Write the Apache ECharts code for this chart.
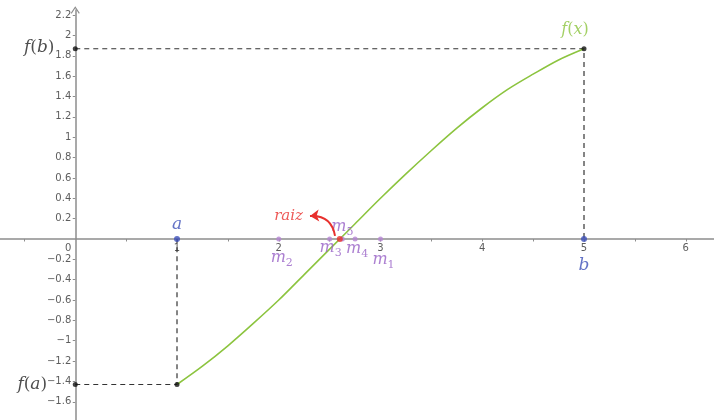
<!DOCTYPE html>
<html>
<head>
<meta charset="utf-8">
<script src="https://cdn.jsdelivr.net/npm/echarts@6/dist/echarts.min.js"></script>
<style>
  html, body { margin: 0; padding: 0; background: #ffffff; }
  #chart { width: 714px; height: 420px; }
</style>
</head>
<body>
<div id="chart"></div>
<script>
// Sampled values of f on the bracket [a, b]
const xs = [1, 1.25, 1.5, 1.75, 2, 2.25, 2.5, 2.75, 3, 3.25, 3.5, 3.75, 4, 4.25, 4.5, 4.75, 5];
const fx = [-1.43, -1.25, -1.05, -0.83, -0.60, -0.35, -0.10, 0.15, 0.40, 0.64, 0.87, 1.09, 1.29, 1.47, 1.62, 1.76, 1.87];

// Bracket ends and the root found by bisection
const a = 1;
const b = 5;
const root = 2.6;

// Successive midpoints m1..m5
const midNames = ['m1', 'm2', 'm3', 'm4', 'm5'];
const midValues = [3, 2, 2.5, 2.75, 2.625];

// Axis tick labels
const xTickLabels = [1, 2, 3, 4, 5, 6];
const xTickMarks = [-0.5, 0.5, 1, 1.5, 2, 2.5, 3, 3.5, 4, 4.5, 5, 5.5, 6];
const yTickLabels = [-1.6, -1.4, -1.2, -1, -0.8, -0.6, -0.4, -0.2, 0.2, 0.4, 0.6, 0.8, 1, 1.2, 1.4, 1.6, 1.8, 2, 2.2];

const fa = fx[0];
const fb = fx[fx.length - 1];

// ---- layout / styling ----
const MATH_FONT = 'DejaVu Serif';
const AXIS_GRAY = '#8d8d8d';
const GREEN = '#8cc43f';
const BLUE = '#3c4fb8';
const PURPLE_DOT = '#b484d2';
const PURPLE_TEXT = '#9760c6';
const RED = '#e8302d';

// pixel offsets of midpoint labels (centre of label relative to the point)
const midLabelOffset = {
  m1: [3, 21], m2: [3, 19], m3: [1, 9], m4: [2, 10], m5: [0, -12]
};
// curved pointer next to the root label (data units)
const pointerFrom = [2.553, 0.03];
const pointerTo = [2.307, 0.226];

function mathRich(color, size) {
  return {
    i: { fontFamily: MATH_FONT, fontStyle: 'italic', fontSize: size, color: color, lineHeight: 22, verticalAlign: 'middle' },
    r: { fontFamily: MATH_FONT, fontSize: size, color: color, lineHeight: 22, verticalAlign: 'middle' },
    s: { fontFamily: MATH_FONT, fontSize: Math.round(size * 0.66), color: color, lineHeight: 22, verticalAlign: 'bottom' }
  };
}
function fLabel(arg) {
  return '{i|f}{r|(}{i|' + arg + '}{r|)}';
}
function subLabel(name) {
  return '{i|' + name[0] + '}{s|' + name.slice(1) + '}';
}
function fmtTick(v) {
  const n = Math.round(v * 10) / 10;
  return n < 0 ? '\u2212' + String(-n) : String(n);
}

const TICK_FONT = { fontFamily: 'DejaVu Sans', fontSize: 10, color: '#333333' };

const chart = echarts.init(document.getElementById('chart'), null, { renderer: 'canvas' });

const option = {
  backgroundColor: '#ffffff',
  animation: false,
  grid: { left: 0, right: 0, top: 10, bottom: 0, containLabel: false, outerBoundsMode: 'none' },
  xAxis: {
    type: 'value',
    min: -0.7396,
    max: 6.2776,
    axisLine: { onZero: true, lineStyle: { color: AXIS_GRAY, width: 1.5 } },
    axisTick: { show: true, length: 2.5, customValues: xTickMarks, lineStyle: { color: AXIS_GRAY } },
    axisLabel: { show: false },
    splitLine: { show: false }
  },
  yAxis: {
    type: 'value',
    min: -1.7789,
    max: 2.2506,
    axisLine: {
      onZero: true,
      symbol: ['none', 'path://M0,9 L6,0 L12,9 L10.8,10 L6,2.6 L1.2,10 Z'],
      symbolSize: [9, 8],
      lineStyle: { color: AXIS_GRAY, width: 1.5 }
    },
    axisTick: { show: true, length: 2.5, customValues: yTickLabels, lineStyle: { color: AXIS_GRAY } },
    axisLabel: { show: false },
    splitLine: { show: false }
  },
  series: [
    // tick labels along the axes through the origin
    {
      type: 'scatter',
      symbolSize: 0,
      silent: true,
      data: xTickLabels.map(v => [v, 0]),
      label: Object.assign({ show: true, position: 'inside', offset: [0, 9], formatter: p => fmtTick(p.value[0]) }, TICK_FONT),
      z: 1
    },
    {
      type: 'scatter',
      symbolSize: 0,
      silent: true,
      data: yTickLabels.map(v => [0, v]),
      label: Object.assign({ show: true, position: 'left', distance: 4, formatter: p => fmtTick(p.value[1]) }, TICK_FONT),
      z: 1
    },
    {
      type: 'scatter',
      symbolSize: 0,
      silent: true,
      data: [[0, 0]],
      label: Object.assign({ show: true, position: 'inside', offset: [-7, 9], formatter: '0' }, TICK_FONT),
      z: 1
    },
    // dashed guides to f(b) and f(a)
    {
      type: 'line',
      data: [[0, fb], [b, fb], [b, 0]],
      symbol: 'none',
      lineStyle: { color: '#333333', width: 1.2, type: [5, 4] },
      z: 2
    },
    {
      type: 'line',
      data: [[0, fa], [a, fa], [a, 0]],
      symbol: 'none',
      lineStyle: { color: '#333333', width: 1.2, type: [5, 4] },
      z: 2
    },
    // the function
    {
      type: 'line',
      data: xs.map((x, i) => [x, fx[i]]),
      smooth: 0.3,
      symbol: 'none',
      lineStyle: { color: GREEN, width: 1.6 },
      z: 3
    },
    // f(b), f(a) points and labels
    {
      type: 'scatter',
      symbolSize: 5,
      itemStyle: { color: '#111111' },
      data: [
        { value: [0, fb], label: { show: true, position: 'inside', offset: [-36, -1], formatter: fLabel('b'), rich: mathRich('#222222', 17) } },
        { value: [b, fb], label: { show: true, position: 'inside', offset: [-9, -19], formatter: fLabel('x'), rich: mathRich(GREEN, 16) } },
        { value: [0, fa], label: { show: true, position: 'inside', offset: [-43, 0], formatter: fLabel('a'), rich: mathRich('#222222', 17) } },
        { value: [a, fa] }
      ],
      z: 5
    },
    // bracket ends a, b
    {
      type: 'scatter',
      symbolSize: 6,
      itemStyle: { color: BLUE },
      data: [
        { value: [a, 0], label: { show: true, position: 'inside', offset: [0, -14], formatter: '{i|a}', rich: mathRich(BLUE, 17) } },
        { value: [b, 0], label: { show: true, position: 'inside', offset: [0, 27], formatter: '{i|b}', rich: mathRich(BLUE, 17) } }
      ],
      z: 6
    },
    // midpoints
    {
      type: 'scatter',
      symbolSize: 5,
      itemStyle: { color: PURPLE_DOT },
      data: midValues.map((m, i) => ({
        value: [m, 0],
        label: {
          show: true,
          position: 'inside',
          offset: midLabelOffset[midNames[i]],
          formatter: subLabel(midNames[i]),
          rich: mathRich(PURPLE_TEXT, 16)
        }
      })),
      z: 6
    },
    // root
    {
      type: 'scatter',
      symbolSize: 6,
      itemStyle: { color: RED },
      data: [[root, 0]],
      z: 7
    },
    // pointer to the root
    {
      type: 'lines',
      coordinateSystem: 'cartesian2d',
      data: [{ coords: [pointerFrom, pointerTo] }],
      symbol: ['none', 'arrow'],
      symbolSize: 9,
      lineStyle: { color: RED, width: 2, curveness: -0.45, opacity: 1 },
      effect: { show: false },
      z: 7
    },
    {
      type: 'scatter',
      symbolSize: 0,
      data: [{ value: pointerTo, label: { show: true, position: 'left', distance: 7, formatter: '{i|raiz}', rich: mathRich(RED, 15) } }],
      silent: true,
      z: 7
    }
  ]
};

chart.setOption(option);
</script>
</body>
</html>
